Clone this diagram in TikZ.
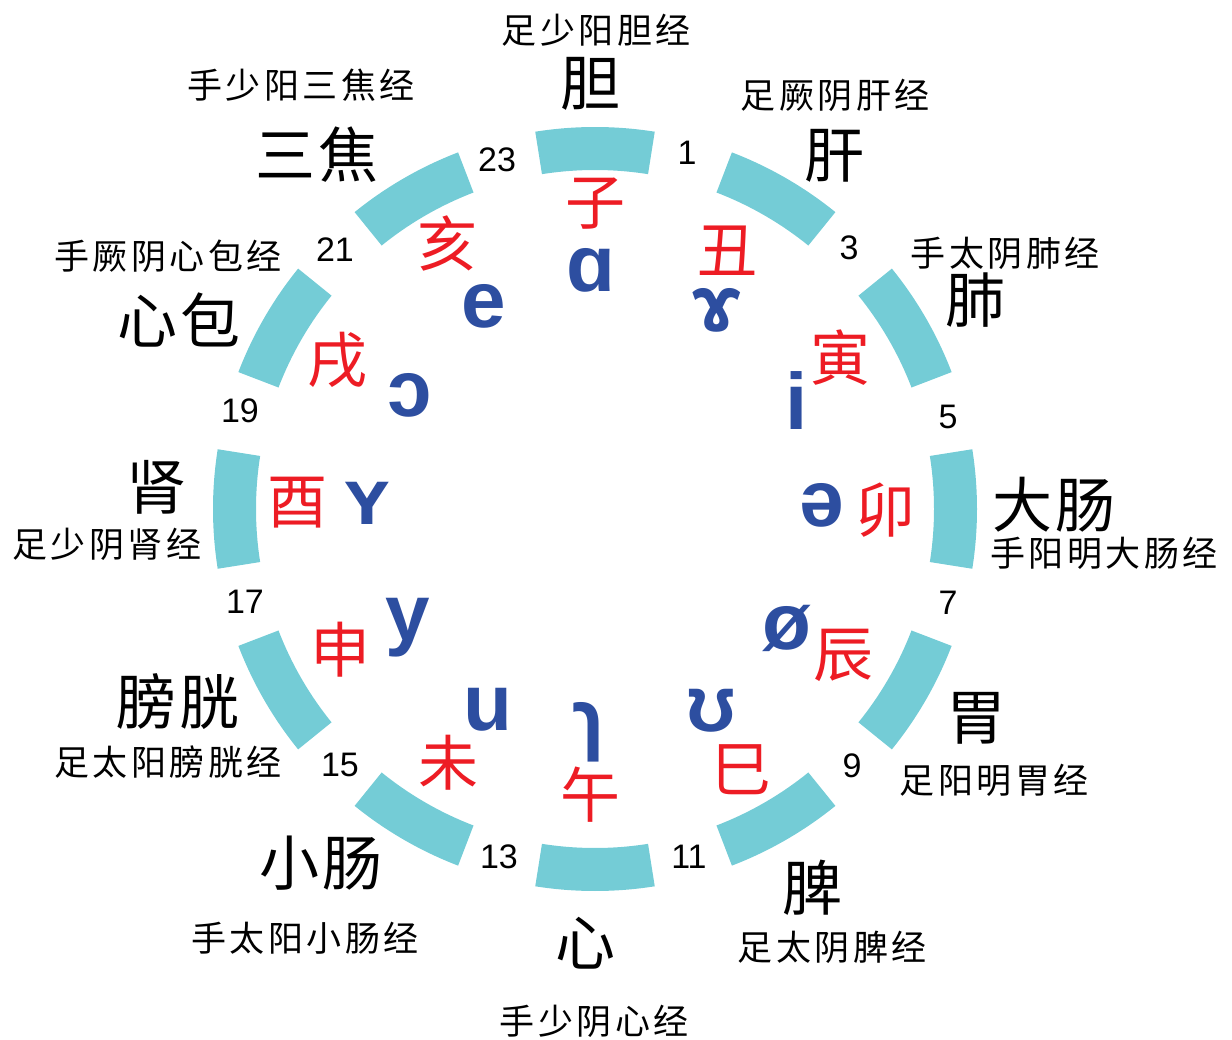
\documentclass[tikz,border=0pt]{standalone}
\usepackage{fontspec}
\setmainfont{Liberation Sans}
\newfontfamily\cjkfont{Noto Sans CJK SC}
\newfontfamily\cjkspaced[LetterSpace=10]{Noto Sans CJK SC}
\newfontfamily\cjkorgan[LetterSpace=6]{Noto Sans CJK SC}
\newfontfamily\ipafont{Liberation Sans Bold}
\definecolor{segcol}{RGB}{116,204,214}
\definecolor{zred}{RGB}{237,28,36}
\definecolor{zblue}{RGB}{45,78,160}
\begin{document}
\begin{tikzpicture}[x=1pt,y=-1pt,
  seg/.style={fill=segcol},
  merid/.style={inner sep=0pt, font=\cjkspaced\fontsize{35}{40}\selectfont},
  organ/.style={inner sep=0pt, font=\cjkorgan\fontsize{60}{66}\selectfont},
  branch/.style={inner sep=0pt, text=zred, font=\cjkfont\fontsize{60}{66}\selectfont},
  vowel/.style={inner sep=0pt, text=zblue, font=\ipafont\fontsize{80}{88}\selectfont},
  hour/.style={inner sep=0pt, font=\fontsize{34}{38}\selectfont}]
\useasboundingbox (0,0) rectangle (1232,1040);
\coordinate (C) at (595,509);
% ring segments
\foreach \k in {0,...,11}{
  \pgfmathsetmacro\a{90-30*\k}
  \fill[seg, shift={(C)}] (\a-9:339) arc[start angle=\a-9, end angle=\a+9, radius=339]
     -- (\a+9:382) arc[start angle=\a+9, end angle=\a-9, radius=382] -- cycle;
}
% hour numbers
\node[hour] (h1)  at (687,153) {1};
\node[hour] (h3)  at (849,248) {3};
\node[hour] (h5)  at (948,417) {5};
\node[hour] (h7)  at (948,603) {7};
\node[hour] (h9)  at (852,766) {9};
\node[hour] (h11) at (689,857) {11};
\node[hour] (h13) at (499,857) {13};
\node[hour] (h15) at (340,765) {15};
\node[hour] (h17) at (245,602) {17};
\node[hour] (h19) at (240,411) {19};
\node[hour] (h21) at (335,250) {21};
\node[hour] (h23) at (497,160) {23};
% earthly branches
\node[branch] (b1)  at (595,204) {子};
\node[branch] (b2)  at (727,251) {丑};
\node[branch] (b3)  at (840,358) {寅};
\node[branch] (b4)  at (885,510) {卯};
\node[branch] (b5)  at (843,655) {辰};
\node[branch] (b6)  at (741,770) {巳};
\node[branch] (b7)  at (590,795) {午};
\node[branch] (b8)  at (448,763) {未};
\node[branch] (b9)  at (340,650) {申};
\node[branch] (b10) at (297,503) {酉};
\node[branch] (b11) at (337,360) {戌};
\node[branch] (b12) at (447,243) {亥};
% vowels
\node[vowel] (v1)  at (591,270) {ɑ};
\node[vowel, text height=44pt, text depth=0pt] (v2) at (717,310) {ɤ};
\node[vowel] (v3)  at (797,401) {i};
\node[vowel] (v4)  at (822,505) {ə};
\node[vowel] (v5)  at (787,628) {ø};
\node[vowel] (v6)  at (711,711) {ʊ};
\node[vowel] (v7)  at (589,732) {ɿ};
\node[vowel] (v8)  at (488,710) {u};
\node[vowel] (v9)  at (408,628) {y};
\node[vowel] (v10) at (367,503) {ʏ};
\node[vowel] (v11) at (410,395) {ɔ};
\node[vowel] (v12) at (484,306) {e};
% organs
\node[organ] (o1)  at (590,84)  {胆};
\node[organ] (o2)  at (834,156) {肝};
\node[organ] (o3)  at (975,300) {肺};
\node[organ] (o4)  at (1054,505) {大肠};
\node[organ] (o5)  at (976,718) {胃};
\node[organ] (o6)  at (812,888) {脾};
\node[organ] (o7)  at (585,943) {心};
\node[organ] (o8)  at (321,863) {小肠};
\node[organ] (o9)  at (178,702) {膀胱};
\node[organ] (o10) at (156,487) {肾};
\node[organ] (o11) at (179,320) {心包};
\node[organ] (o12) at (317,155) {三焦};
% meridians
\node[merid] (m1)  at (596,30)  {足少阳胆经};
\node[merid] (m2)  at (835,95)  {足厥阴肝经};
\node[merid] (m3)  at (1005,253) {手太阴肺经};
\node[merid] (m4)  at (1104,553) {手阳明大肠经};
\node[merid] (m5)  at (994,780) {足阳明胃经};
\node[merid] (m6)  at (832,947) {足太阴脾经};
\node[merid] (m7)  at (594,1021) {手少阴心经};
\node[merid] (m8)  at (305,938) {手太阳小肠经};
\node[merid] (m9)  at (168,762) {足太阳膀胱经};
\node[merid] (m10) at (107,544) {足少阴肾经};
\node[merid] (m11) at (168,256) {手厥阴心包经};
\node[merid] (m12) at (301,85)  {手少阳三焦经};
\end{tikzpicture}
\end{document}
